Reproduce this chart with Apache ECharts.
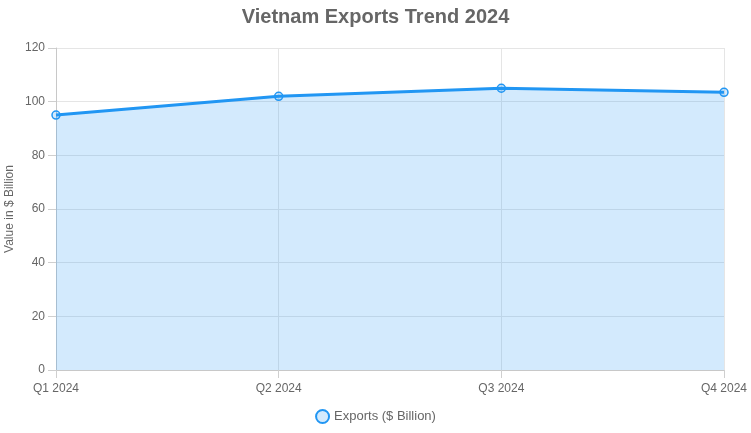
<!DOCTYPE html>
<html>
<head>
<meta charset="utf-8">
<script src="https://cdn.jsdelivr.net/npm/echarts@6/dist/echarts.min.js"></script>
<style>
  html, body { margin: 0; padding: 0; background: #fff; }
  #chart { width: 751px; height: 433px; }
</style>
</head>
<body>
<div id="chart"></div>
<script>
const quarters = ['Q1 2024', 'Q2 2024', 'Q3 2024', 'Q4 2024']
const exports = [95, 102, 105, 103.5]
const seriesName = 'Exports ($ Billion)'
const yTitle = 'Value in $ Billion'

const chart = echarts.init(document.getElementById('chart'))

const font = 'Liberation Sans, Arial, sans-serif'

chart.setOption({
  animation: false,
  title: {
    text: 'Vietnam Exports Trend 2024',
    left: 'center',
    top: 2,
    textStyle: { fontFamily: font, fontSize: 20, fontWeight: 'bold', color: '#666' }
  },
  legend: {
    bottom: 4,
    left: 'center',
    icon: 'circle',
    itemWidth: 13,
    itemHeight: 13,
    textStyle: { fontFamily: font, fontSize: 13, color: '#666' },
    data: [seriesName]
  },
  // y axis title, placed like the original (rotated, left of tick labels)
  graphic: [
    {
      type: 'text',
      x: 10,
      y: 209,
      rotation: Math.PI / 2,
      style: {
        text: yTitle,
        fontFamily: font,
        fontSize: 12,
        fill: '#666',
        align: 'center',
        verticalAlign: 'middle'
      }
    }
  ],
  grid: { left: 56, right: 27, top: 48, bottom: 63, outerBoundsMode: 'none' },
  xAxis: {
    type: 'category',
    data: quarters,
    boundaryGap: false,
    axisLine: { lineStyle: { color: '#c8c8c8' } },
    axisTick: { show: true, alignWithLabel: true, length: 8, lineStyle: { color: '#cfcfcf' } },
    axisLabel: { fontFamily: font, fontSize: 12, color: '#666', margin: 13 },
    splitLine: { show: true, lineStyle: { color: '#e5e5e5' } }
  },
  yAxis: {
    type: 'value',
    min: 0,
    max: 120,
    interval: 20,
    axisLine: { show: true, lineStyle: { color: '#c8c8c8' } },
    axisTick: { show: true, length: 8, lineStyle: { color: '#cfcfcf' } },
    axisLabel: { fontFamily: font, fontSize: 12, color: '#666', margin: 11 },
    splitLine: { show: true, lineStyle: { color: '#e5e5e5' } }
  },
  series: [
    {
      name: seriesName,
      type: 'line',
      data: exports,
      symbol: 'circle',
      symbolSize: 8,
      lineStyle: { color: '#2196F3', width: 3 },
      itemStyle: { color: 'rgba(33,150,243,0.2)', borderColor: '#2196F3', borderWidth: 1.5 },
      areaStyle: { color: 'rgba(33,150,243,0.2)', opacity: 1 }
    }
  ]
})
</script>
</body>
</html>
